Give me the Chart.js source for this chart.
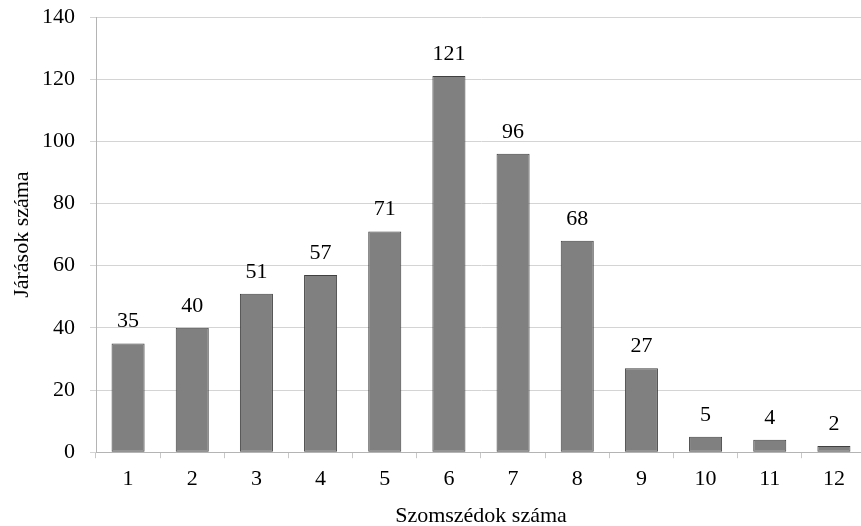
<!DOCTYPE html>
<html lang="hu">
<head>
<meta charset="UTF-8">
<title>Szomszédok száma</title>
<script src="https://cdn.jsdelivr.net/npm/chart.js"></script>
<style>
  html, body { margin: 0; padding: 0; background: #fff; overflow: hidden; }
</style>
</head>
<body>
<!-- a bit wider than the window: the original plot runs past the right edge -->
<canvas id="chart" width="866" height="526"></canvas>
<script>
  // data
  const neighbours = ['1', '2', '3', '4', '5', '6', '7', '8', '9', '10', '11', '12'];
  const districts = [35, 40, 51, 57, 71, 121, 96, 68, 27, 5, 4, 2];

  const font = "'Liberation Serif', 'Times New Roman', serif";

  // value labels above each bar
  const barLabels = {
    id: 'barLabels',
    afterDatasetsDraw(chart) {
      const ctx = chart.ctx;
      const meta = chart.getDatasetMeta(0);
      ctx.save();
      ctx.fillStyle = '#000';
      ctx.font = '22px ' + font;
      ctx.textAlign = 'center';
      ctx.textBaseline = 'alphabetic';
      meta.data.forEach((bar, i) => {
        ctx.fillText(districts[i], bar.x, bar.y - 16);
      });
      ctx.restore();
    }
  };

  new Chart(document.getElementById('chart'), {
    type: 'bar',
    data: {
      labels: neighbours,
      datasets: [{
        data: districts,
        backgroundColor: '#808080',
        borderColor: '#404040',
        borderWidth: 1,
        borderSkipped: false,
        barPercentage: 0.515,
        categoryPercentage: 1
      }]
    },
    options: {
      responsive: false,
      animation: false,
      devicePixelRatio: 1,
      layout: { padding: { top: 0, right: 0, left: 8, bottom: -3 } },
      plugins: { legend: { display: false }, tooltip: { enabled: false } },
      scales: {
        x: {
          offset: true,
          grid: {
            offset: true,
            drawOnChartArea: false,
            color: '#c8c8c8',
            tickLength: 6
          },
          border: { color: '#b4b4b4' },
          ticks: { color: '#000', font: { family: font, size: 22 }, padding: 8, autoSkip: false, maxRotation: 0 },
          title: {
            display: true,
            text: 'Szomszédok száma',
            color: '#000',
            font: { family: font, size: 22 },
            padding: { top: 2, bottom: 0 }
          }
        },
        y: {
          min: 0,
          max: 140,
          afterFit(scale) {
            scale.width = 88;
            scale.paddingTop = 17;
            scale.paddingBottom = 0;
          },
          ticks: { stepSize: 20, color: '#000', font: { family: font, size: 22 }, padding: 15 },
          grid: { color: '#d4d4d4', tickLength: 6 },
          border: { color: '#b4b4b4' },
          title: {
            display: true,
            text: 'Járások száma',
            color: '#000',
            font: { family: font, size: 22 },
            padding: { top: 1, bottom: 7 }
          }
        }
      }
    },
    plugins: [barLabels]
  });
</script>
</body>
</html>
